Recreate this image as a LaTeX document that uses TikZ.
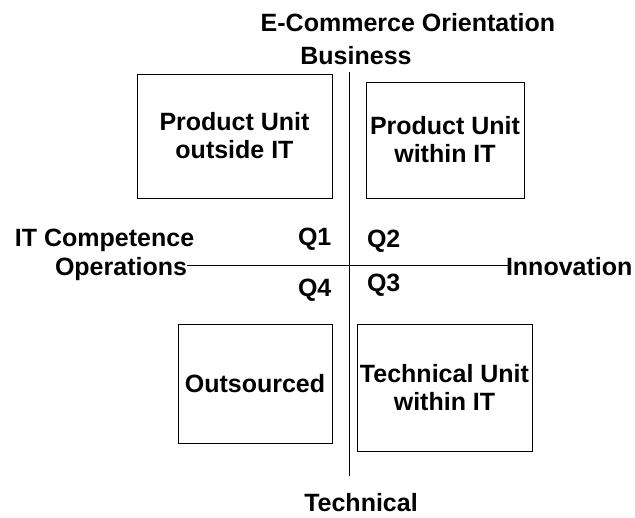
\documentclass[tikz,border=0pt]{standalone}
\usepackage{fontspec}
\setmainfont{Liberation Sans}
\usepackage{tikz}
\usetikzlibrary{calc,positioning}
\tikzstyle{axislabel}=[inner sep=0pt, outer sep=0pt,
                    font=\fontsize{25}{28}\selectfont\bfseries]
\tikzstyle{quadbox} =[draw, line width=0.9pt, inner sep=0pt,
                    align=center, axislabel]
\tikzstyle{axis}    =[line width=1pt]

\begin{document}
\begin{tikzpicture}[x=1pt, y=-1pt]
    \useasboundingbox (0,0) rectangle (635,518);

    % axis labels
    \node[axislabel, anchor=base] (ecom) at (408,32) {E-Commerce Orientation};
    \node[axislabel, anchor=base] (business) at (356,65) {Business};
    \node[axislabel, anchor=base] (technical) at (361,512) {Technical};
    \node[axislabel, anchor=base west] (itcomp) at (15,247) {IT Competence};
    \node[axislabel, anchor=base west] (operations) at (55,276) {Operations};
    \node[axislabel, anchor=base west] (innovation) at (506,276) {Innovation};

    % quadrant boxes
    \node[quadbox, minimum width=195, minimum height=124] (q1box) at (234.5,136)
        {Product Unit\\outside IT};
    \node[quadbox, minimum width=158, minimum height=116] (q2box) at (445,140)
        {Product Unit\\within IT};
    \node[quadbox, minimum width=175, minimum height=127] (q3box) at (444.5,387.5)
        {Technical Unit\\within IT};
    \node[quadbox, minimum width=154, minimum height=119] (q4box) at (255,383.5)
        {Outsourced};

    % quadrant names
    \node[axislabel, anchor=base west] (q1) at (298,246) {Q1};
    \node[axislabel, anchor=base west] (q2) at (367,248) {Q2};
    \node[axislabel, anchor=base west] (q3) at (367,292) {Q3};
    \node[axislabel, anchor=base west] (q4) at (298,297) {Q4};

    % axes
    \coordinate (origin) at (349,266);
    \coordinate (top) at (349,72);
    \coordinate (bottom) at (349,476);
    \draw[axis] (top) -- (bottom);
    \draw[axis] (operations.east |- origin) -- ($(innovation.west |- origin)+(2,0)$);
\end{tikzpicture}
\end{document}
